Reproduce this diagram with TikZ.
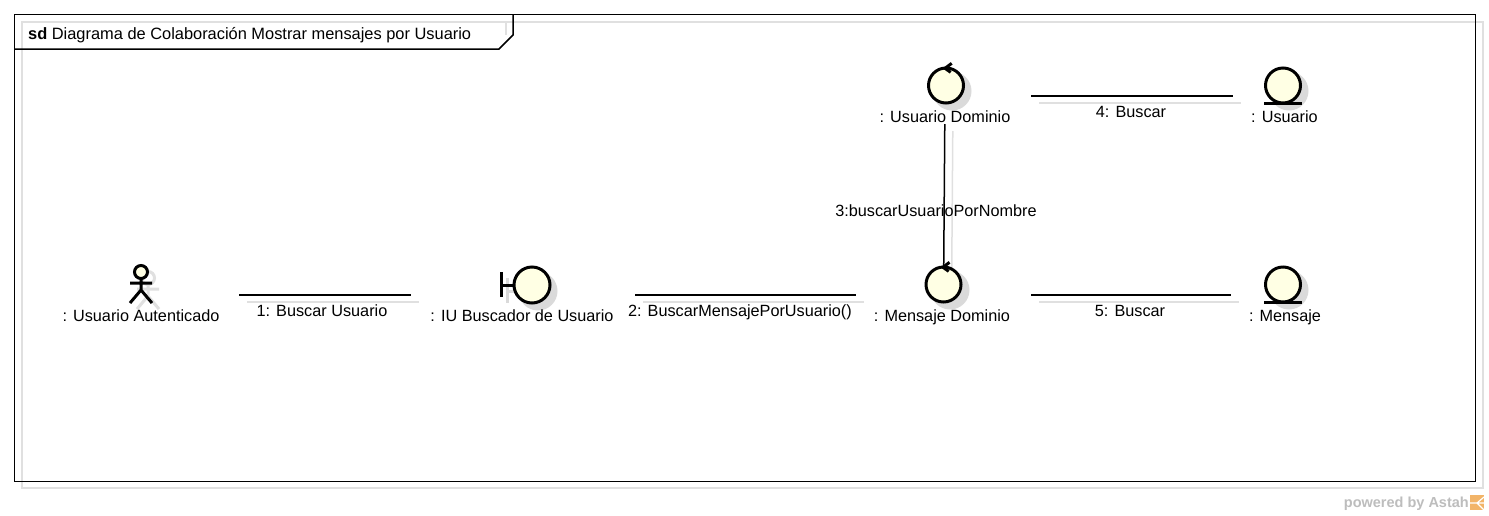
\documentclass[tikz,border=0pt]{standalone}
\usepackage{fontspec}
\setmainfont{Liberation Sans}
\definecolor{shade}{HTML}{E0E0E0}
\definecolor{iconshade}{HTML}{DADADA}
\definecolor{iconfill}{HTML}{FFFFE4}
\definecolor{astahgray}{HTML}{BDBDBD}
\definecolor{astahorange}{HTML}{F2B468}
\tikzset{
  box/.style={inner sep=0pt,outer sep=0pt,minimum height=60pt},
  lbl/.style={inner sep=0pt,anchor=base,font=\fontsize{16.25}{18}\selectfont,text=black},
  conn/.style={line width=1.5pt,draw=black},
  connshadow/.style={line width=1.5pt,draw=shade,transform canvas={shift={(8pt,-7pt)}}},
  icon/.style={line width=3pt,draw=black,fill=iconfill},
  iconline/.style={line width=3pt,draw=black},
  iconshadow/.style={fill=iconshade,draw=none},
  shadowline/.style={line width=3pt,draw=iconshade},
}
\begin{document}
\begin{tikzpicture}[x=1pt,y=-1pt]
\useasboundingbox (0,0) rectangle (1489,515);
\fill[white] (0,0) rectangle (1489,515);
% frame
\draw[line width=1.5pt,draw=shade] (22,22) rectangle (1483,488);
\draw[line width=1.5pt,draw=shade] (506,22) -- (506,35);
\draw[line width=1.5pt,draw=black,fill=none] (14.5,14.5) rectangle (1475.5,481.5);
\draw[line width=1.5pt,draw=black] (513,14.5) -- (513,35) -- (499,49) -- (14.5,49);
\node[lbl,anchor=base west,font=\fontsize{16.4}{18}\selectfont] (frametitle) at (28,39) {\textbf{sd} Diagrama de Colaboración Mostrar mensajes por Usuario};
% invisible bounding boxes of the elements
\node[box,minimum width=197pt] (actor) at (140.5,295) {};
\node[box,minimum width=224pt] (iu) at (523,295) {};
\node[box,minimum width=175pt] (md) at (943.5,295) {};
\node[box,minimum width=172pt] (ud) at (945,96) {};
\node[box,minimum width=104pt] (eu) at (1285,96) {};
\node[box,minimum width=108pt] (em) at (1285,295) {};
% connector shadows
\draw[connshadow] (actor) -- (iu);
\draw[connshadow] (iu) -- (md);
\draw[connshadow] (md) -- (em);
\draw[connshadow] (ud) -- (eu);
\draw[connshadow,shorten <=-2pt,shorten >=-2pt] (ud) -- (md);
% icon shadows
\fill[iconshadow] (952,91) circle (19.5);
\fill[iconshadow] (950,290) circle (19.5);
\fill[iconshadow] (1289,91) circle (19.5);
\fill[iconshadow] (1289,290) circle (19.5);
\fill[iconshadow] (538,291) circle (19.5);
\draw[shadowline] (507,278) -- (507,303);
\draw[shadowline] (507,291) -- (520,291);
\begin{scope}[shift={(7,6)}]
\draw[draw=shade,line width=3pt] (141,272) circle (6.5);
\draw[draw=shade,line width=3pt] (141,279) -- (141,290) (130,283) -- (152,283) (141,290) -- (130,303) (141,290) -- (152,303);
\end{scope}
% connectors
\draw[conn] (actor) -- (iu);
\draw[conn] (iu) -- (md);
\draw[conn] (md) -- (em);
\draw[conn] (ud) -- (eu);
\draw[conn,shorten <=-2pt,shorten >=-3pt] (ud) -- (md);
% actor
\draw[iconline] (141,279) -- (141,290) (130,283) -- (152,283) (141,290) -- (130,303) (141,290) -- (152,303);
\draw[icon] (141,272) circle (6.5);
% boundary
\draw[iconline] (501,272) -- (501,297);
\draw[iconline] (501,285) -- (515,285);
\draw[icon] (532,285) circle (18);
% controls
\draw[icon] (946,85.5) circle (17.5);
\draw[iconline,line join=miter] (951.7,63.3) -- (945,68.3) -- (950.7,72.3);
\draw[icon] (943.5,284.5) circle (17.5);
\draw[iconline,line join=miter] (949.5,262.3) -- (943,267.3) -- (948.7,271.3);
% entities
\draw[icon] (1283,85.5) circle (17.5);
\draw[iconline] (1264,103.5) -- (1302,103.5);
\draw[icon] (1283,284.5) circle (17.5);
\draw[iconline] (1264,302.5) -- (1302,302.5);
% labels
\node[lbl] (l1) at (141,321) {: Usuario Autenticado};
\node[lbl] (l2) at (522,321) {: IU Buscador de Usuario};
\node[lbl] (l3) at (942,321) {: Mensaje Dominio};
\node[lbl] (l4) at (945,122) {: Usuario Dominio};
\node[lbl] (l5) at (1284.5,122) {: Usuario};
\node[lbl] (l6) at (1285,321) {: Mensaje};
\node[lbl] (m1) at (322,316) {1: Buscar Usuario};
\node[lbl] (m2) at (740,316) {2: BuscarMensajePorUsuario()};
\node[lbl] (m3) at (936,216) {3:buscarUsuarioPorNombre};
\node[lbl] (m4) at (1131,117) {4: Buscar};
\node[lbl] (m5) at (1130,316) {5: Buscar};
% footer
\node[inner sep=0pt,anchor=base east,text=astahgray,font=\fontsize{14.5}{16}\selectfont\bfseries] (pb) at (1469,507) {powered by Astah};
\fill[astahorange] (1470,495) rectangle (1484,510);
\draw[white,line width=1.2pt] (1470,503) -- (1484,503) (1477,503) -- (1484,497) (1477,503) -- (1484,510);
\end{tikzpicture}
\end{document}
